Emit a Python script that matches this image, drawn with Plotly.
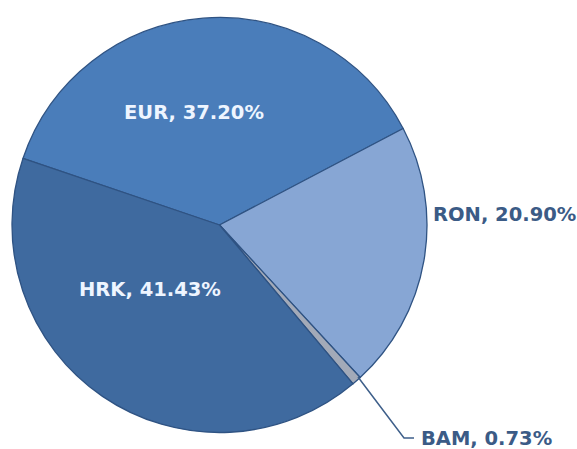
import plotly.graph_objects as go

labels = ["EUR", "RON", "BAM", "HRK"]
values = [37.20, 20.90, 0.73, 41.43]
colors = ["#4a7dba", "#87a6d4", "#a3aab8", "#3f6a9f"]

W, H = 577, 449

def px(x, y):
    return x / W, 1 - y / H

fig = go.Figure(go.Pie(
    labels=labels,
    values=values,
    sort=False,
    direction="clockwise",
    rotation=-71.3,
    marker=dict(colors=colors, line=dict(color="#2f5383", width=1.3)),
    textinfo="none",
    hoverinfo="label+value",
    domain=dict(x=[12 / W, 427 / W], y=[1 - 435 / H, 1 - 15 / H]),
    showlegend=False,
))

label_text = [f"{l}, {v:.2f}%" for l, v in zip(labels, values)]
# label anchor positions (pixels) and styles
pos = {
    "EUR": (194, 112, "center", "#eef5ff"),
    "RON": (431, 214, "left", "#3b5b86"),
    "BAM": (419, 438, "left", "#3b5b86"),
    "HRK": (150, 289, "center", "#eef5ff"),
}
for l, t in zip(labels, label_text):
    x, y, anc, col = pos[l]
    X, Y = px(x, y)
    fig.add_annotation(x=X, y=Y, xref="paper", yref="paper", text=f"<b>{t}</b>",
                       showarrow=False, xanchor=anc, yanchor="middle",
                       font=dict(family="DejaVu Sans", size=19.5, color=col))

# leader line for BAM
p0 = px(358, 377); p1 = px(404, 438); p2 = px(414, 438)
fig.add_shape(type="path", xref="paper", yref="paper",
              path=f"M {p0[0]},{p0[1]} L {p1[0]},{p1[1]} L {p2[0]},{p2[1]}",
              line=dict(color="#3e5f8a", width=1.5))

fig.update_layout(width=W, height=H, margin=dict(l=0, r=0, t=0, b=0),
                  paper_bgcolor="white", plot_bgcolor="white")
fig.write_html("out.html", config={"displayModeBar": False},
               post_script="document.body.style.margin='0';document.body.style.padding='0';document.body.style.overflow='hidden';")
